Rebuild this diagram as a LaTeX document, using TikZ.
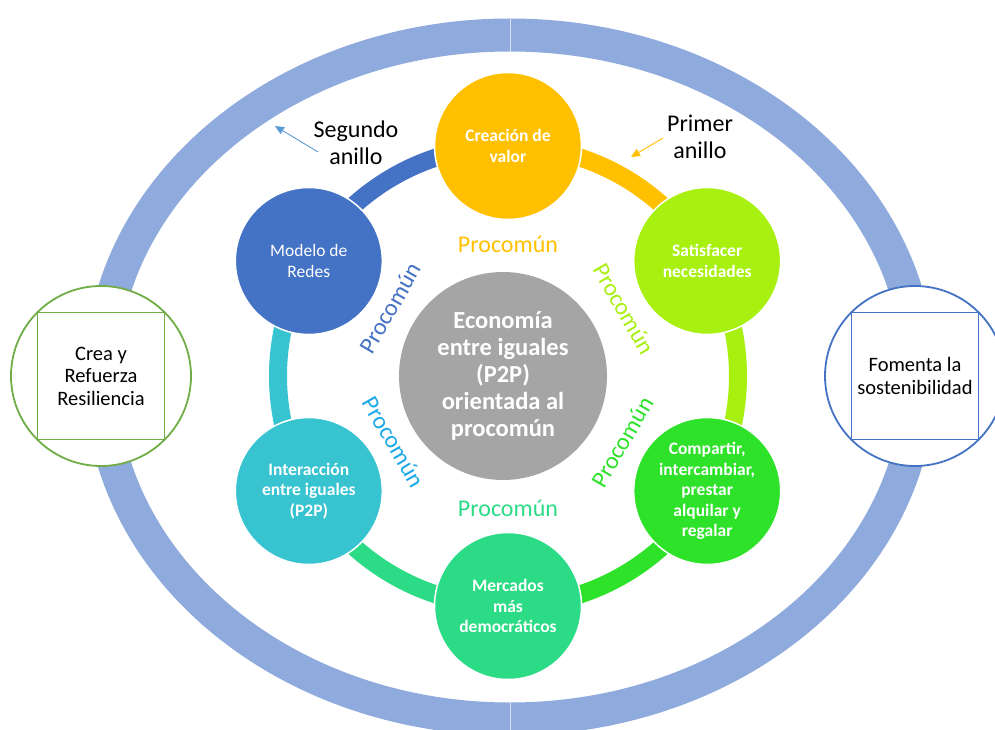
\documentclass[tikz,border=0pt]{standalone}
\usepackage{fontspec}
\setmainfont{Carlito}
\usepackage{tikz}
\usetikzlibrary{calc,arrows.meta}
\definecolor{ringc}{HTML}{8FAADC}
\definecolor{cValor}{HTML}{FFC000}
\definecolor{cNecesidad}{HTML}{A7F00F}
\definecolor{cCompartir}{HTML}{2EE22A}
\definecolor{cMercado}{HTML}{2CDB85}
\definecolor{cInteraccion}{HTML}{37C4D0}
\definecolor{cRedes}{HTML}{4472C4}
\definecolor{cTeal}{HTML}{1BA8E8}
\definecolor{cCentro}{HTML}{A5A5A5}
\definecolor{cResiliencia}{HTML}{70AD47}
\definecolor{cArrowBlue}{HTML}{5B9BD5}

\begin{document}
\begin{tikzpicture}[x=1pt, y=1pt,
  bubble/.style={circle, draw=white, line width=1.5pt, minimum size=147pt,
    inner sep=0pt, align=center, text=white,
    font=\bfseries\fontsize{17.5}{20.5}\selectfont},
  ringarc/.style={line width=18pt},
  procomun/.style={inner sep=0pt, font=\fontsize{24}{28}\selectfont},
  sidecirc/.style={circle, fill=white, line width=1.8pt, minimum size=180pt, inner sep=0pt},
  sidebox/.style={rectangle, line width=1.8pt, minimum size=127pt, inner sep=0pt,
    align=center, font=\fontsize{20.5}{22.5}\selectfont},
  ringlabel/.style={align=center, inner sep=1pt, font=\fontsize{24}{27}\selectfont}]
  \useasboundingbox (0,0) rectangle (995,729);
  \clip (0,0) rectangle (995,729);

  % outer ring
  \draw[ringc, line width=33pt] (510,352) ellipse [x radius=409, y radius=342];
  \draw[white!65!ringc, line width=0.8pt] (510,677.5) -- (510,710.5);
  \draw[white!65!ringc, line width=0.8pt] (510,-6.5) -- (510,26.5);

  % first ring positions
  \coordinate (hub) at (508,353);
  \coordinate (pValor) at ($(hub)+(90:230)$);
  \coordinate (pNecesidad) at ($(hub)+(30:230)$);
  \coordinate (pCompartir) at ($(hub)+(-30:230)$);
  \coordinate (pMercado) at ($(hub)+(-90:230)$);
  \coordinate (pInteraccion) at ($(hub)+(210:230)$);
  \coordinate (pRedes) at ($(hub)+(150:230)$);

  \draw[ringarc, cRedes] (pRedes) arc[start angle=150, end angle=90, radius=230];
  \draw[ringarc, cValor] (pValor) arc[start angle=90, end angle=30, radius=230];
  \draw[ringarc, cNecesidad] (pNecesidad) arc[start angle=30, end angle=-30, radius=230];
  \draw[ringarc, cCompartir] (pCompartir) arc[start angle=-30, end angle=-90, radius=230];
  \draw[ringarc, cMercado] (pMercado) arc[start angle=-90, end angle=-150, radius=230];
  \draw[ringarc, cInteraccion] (pInteraccion) arc[start angle=210, end angle=150, radius=230];

  \node[bubble, fill=cValor] (valor) at (pValor) {Creación de\\valor};
  \node[bubble, fill=cNecesidad] (necesidad) at (pNecesidad) {Satisfacer\\necesidades};
  \node[bubble, fill=cCompartir] (compartir) at (pCompartir) {Compartir,\\intercambiar,\\prestar\\alquilar y\\regalar};
  \node[bubble, fill=cMercado] (mercado) at (pMercado) {Mercados\\más\\democráticos};
  \node[bubble, fill=cInteraccion] (interaccion) at (pInteraccion) {Interacción\\entre iguales\\(P2P)};
  \node[bubble, fill=cRedes, font=\fontsize{17.5}{20.5}\selectfont] (redes) at (pRedes) {Modelo de\\Redes};

  % centre
  \node[circle, fill=cCentro, minimum size=208pt, inner sep=0pt, align=center, text=white,
    font=\bfseries\fontsize{24.5}{27}\selectfont] (centro) at (503,353)
    {Economía\\entre iguales\\(P2P)\\orientada al\\procomún};

  % procomun labels
  \node[procomun, text=cValor] (pcValor) at ($(hub)+(90:132)$) {Procomún};
  \node[procomun, text=cNecesidad, rotate=-60] (pcNecesidad) at ($(hub)+(30:134)$) {Procomún};
  \node[procomun, text=cCompartir, rotate=60] (pcCompartir) at ($(hub)+(-30:132)$) {Procomún};
  \node[procomun, text=cMercado] (pcMercado) at ($(hub)+(-90:132)$) {Procomún};
  \node[procomun, text=cTeal, rotate=-60] (pcInteraccion) at ($(hub)+(210:132)$) {Procomún};
  \node[procomun, text=cRedes, rotate=60] (pcRedes) at ($(hub)+(150:136)$) {Procomún};

  % side circles
  \node[sidecirc, draw=cResiliencia] (resCirc) at (101,353) {};
  \node[sidebox, draw=cResiliencia] (resBox) at (resCirc.center) {Crea y\\Refuerza\\Resiliencia};
  \node[sidecirc, draw=cRedes] (sostCirc) at (915,353) {};
  \node[sidebox, draw=cRedes] (sostBox) at (sostCirc.center) {Fomenta la\\sostenibilidad};

  % ring labels
  \node[ringlabel] (segundo) at (356,586) {Segundo\\anillo};
  \node[ringlabel] (primer) at (700,592) {Primer\\anillo};
  \coordinate (segTail) at (318,577);
  \coordinate (segHead) at (275,603);
  \coordinate (priTail) at (663,591);
  \coordinate (priHead) at (631,572);
  \draw[cArrowBlue, line width=0.9pt, -{Triangle[length=9pt,width=8pt]}] (segTail) -- (segHead);
  \draw[cValor, line width=0.9pt, -{Triangle[length=9pt,width=8pt]}] (priTail) -- (priHead);
\end{tikzpicture}
\end{document}
